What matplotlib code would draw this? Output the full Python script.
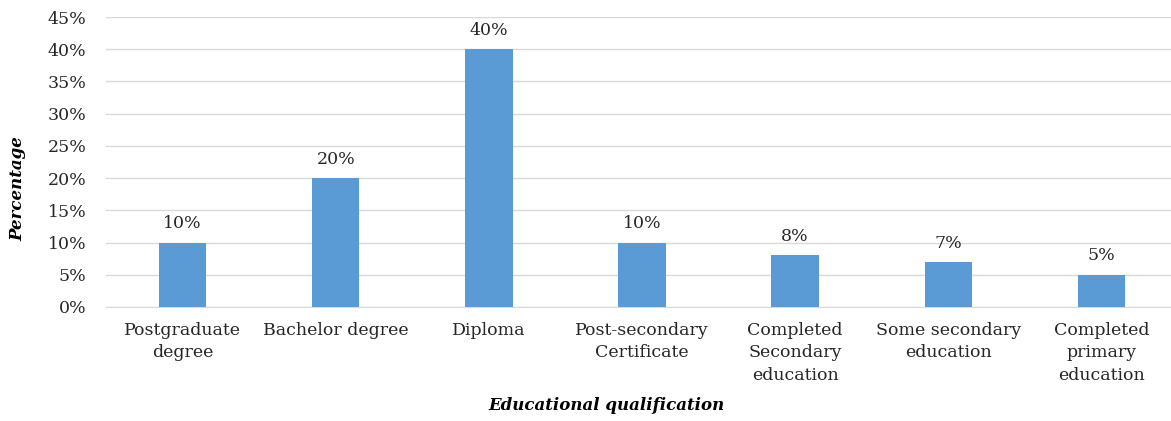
import matplotlib.pyplot as plt
from matplotlib.ticker import PercentFormatter

# 数据
categories = ['Postgraduate\ndegree', 'Bachelor degree', 'Diploma',
              'Post-secondary\nCertificate', 'Completed\nSecondary\neducation',
              'Some secondary\neducation', 'Completed\nprimary\neducation']
percentages = [10, 20, 40, 10, 8, 7, 5]

plt.rcParams['font.family'] = ['DejaVu Serif']

fig = plt.figure(figsize=(11.71, 4.21), dpi=100)
ax = fig.add_axes([0.0905, 0.2708, 0.9155, 0.6888])

x = range(len(categories))
bars = ax.bar(x, percentages, width=0.31, color='#5B9BD5', zorder=3)

# 数据标签
for xi, v in zip(x, percentages):
    ax.text(xi, v + 1.6, f'{v}%', ha='center', va='bottom', fontsize=12.5, color='#262626')

ax.set_xlim(-0.5, len(categories) - 0.5)
ax.set_ylim(0, 45)
ax.set_yticks(range(0, 46, 5))
ax.yaxis.set_major_formatter(PercentFormatter(decimals=0))
ax.set_xticks(list(x))
ax.set_xticklabels(categories, fontsize=12.5, color='#262626', linespacing=1.4)
ax.tick_params(axis='y', labelsize=12.5, labelcolor='#262626', length=0, pad=14)
ax.tick_params(axis='x', length=0, pad=11)

ax.grid(axis='y', color='#D9D9D9', linewidth=1, zorder=0)
for side in ['top', 'right', 'left']:
    ax.spines[side].set_visible(False)
ax.spines['bottom'].set_color('#D9D9D9')

ax.set_ylabel('Percentage', fontsize=12, fontweight='bold', style='italic')
ax.set_xlabel('Educational qualification', fontsize=12, fontweight='bold', style='italic')
ax.yaxis.set_label_coords(-0.074, 0.41)
ax.xaxis.set_label_coords(0.467, -0.31)

fig.savefig('out.png', dpi=100)
